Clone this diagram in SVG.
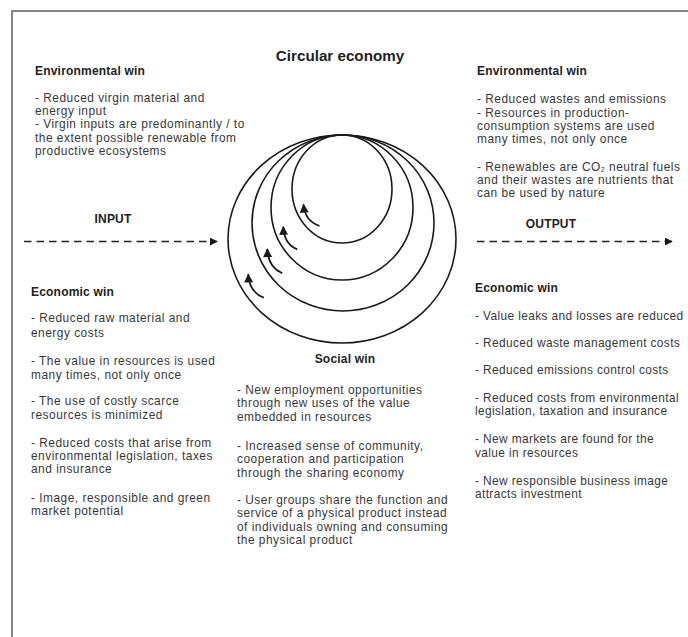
<svg xmlns="http://www.w3.org/2000/svg" width="688" height="637" viewBox="0 0 688 637">
<defs>
<style>
.t{font-family:"Liberation Sans",Arial,sans-serif;font-size:11.9px;letter-spacing:0.5px;fill:#383838}
.tr{letter-spacing:0.38px}
.h{font-family:"Liberation Sans",Arial,sans-serif;font-size:12px;font-weight:bold;letter-spacing:0.2px;fill:#222}
.title{font-family:"Liberation Sans",Arial,sans-serif;font-size:15.2px;font-weight:bold;fill:#222}
.ring{fill:none;stroke:#1a1a1a;stroke-width:1.6}
.dash{fill:none;stroke:#222;stroke-width:1.6;stroke-dasharray:7.5 5}
.curv{fill:none;stroke:#1a1a1a;stroke-width:1.8}
</style>
<marker id="ah" viewBox="0 0 10 10" refX="9" refY="5" markerWidth="8" markerHeight="8" markerUnits="userSpaceOnUse" orient="auto">
<path d="M0,0 L10,5 L0,10 z" fill="#1a1a1a"/>
</marker>
<marker id="ahs" viewBox="0 0 10 10" refX="9" refY="5" markerWidth="10" markerHeight="9" markerUnits="userSpaceOnUse" orient="auto">
<path d="M0,0 L10,5 L0,10 z" fill="#1a1a1a"/>
</marker>
</defs>
<rect width="688" height="637" fill="#fff"/>
<g id="frame" fill="none" stroke="#858585" stroke-width="2">
<path d="M12,637 L12,11 L688,11"/>
</g>
<g id="title"><text class="title" x="340" y="61" text-anchor="middle">Circular economy</text></g>
<g id="env-left">
<text class="h" x="35" y="75">Environmental win</text>
<text class="t"><tspan x="35" y="101.5">- Reduced virgin material and</tspan><tspan x="35" y="115">energy input</tspan><tspan x="35" y="128.3">- Virgin inputs are predominantly / to</tspan><tspan x="35" y="141.7">the extent possible renewable from</tspan><tspan x="35" y="155">productive ecosystems</tspan></text>
</g>
<g id="env-right">
<text class="h" x="477" y="75">Environmental win</text>
<text class="t"><tspan x="477" y="103.3">- Reduced wastes and emissions</tspan><tspan x="477" y="116.7">- Resources in production-</tspan><tspan x="477" y="130">consumption systems are used</tspan><tspan x="477" y="143.3">many times, not only once</tspan><tspan x="477" y="170.7">- Renewables are CO</tspan><tspan font-size="7" dy="0.8">2</tspan><tspan dy="-0.8"> neutral fuels</tspan><tspan x="477" y="184">and their wastes are nutrients that</tspan><tspan x="477" y="197.3">can be used by nature</tspan></text>
</g>
<g id="input"><text class="h" x="113" y="223" text-anchor="middle">INPUT</text></g>
<g id="output"><text class="h" x="551" y="228" text-anchor="middle">OUTPUT</text></g>
<g id="circles">
<ellipse class="ring" cx="342" cy="239" rx="114" ry="104"/>
<ellipse class="ring" cx="343" cy="223" rx="91" ry="88"/>
<ellipse class="ring" cx="342" cy="207.5" rx="71" ry="72.5"/>
<ellipse class="ring" cx="342" cy="189" rx="50" ry="54"/>
</g>
<g id="econ-left">
<text class="h" x="31" y="296">Economic win</text>
<text class="t"><tspan x="31" y="322.3">- Reduced raw material and</tspan><tspan x="31" y="336.7">energy costs</tspan><tspan x="31" y="365">- The value in resources is used</tspan><tspan x="31" y="378.7">many times, not only once</tspan><tspan x="31" y="405">- The use of costly scarce</tspan><tspan x="31" y="419.3">resources is minimized</tspan><tspan x="31" y="446.7">- Reduced costs that arise from</tspan><tspan x="31" y="460">environmental legislation, taxes</tspan><tspan x="31" y="473.3">and insurance</tspan><tspan x="31" y="501.7">- Image, responsible and green</tspan><tspan x="31" y="515">market potential</tspan></text>
</g>
<g id="social">
<text class="h" x="345" y="363.3" text-anchor="middle">Social win</text>
<text class="t"><tspan x="237" y="394">- New employment opportunities</tspan><tspan x="237" y="407.3">through new uses of the value</tspan><tspan x="237" y="420.7">embedded in resources</tspan><tspan x="237" y="450">- Increased sense of community,</tspan><tspan x="237" y="463.3">cooperation and participation</tspan><tspan x="237" y="476.7">through the sharing economy</tspan><tspan x="237" y="504">- User groups share the function and</tspan><tspan x="237" y="517.3">service of a physical product instead</tspan><tspan x="237" y="530.7">of individuals owning and consuming</tspan><tspan x="237" y="544">the physical product</tspan></text>
</g>
<g id="econ-right">
<text class="h" x="475" y="291.7">Economic win</text>
<text class="t tr"><tspan x="475" y="320">- Value leaks and losses are reduced</tspan><tspan x="475" y="346.7">- Reduced waste management costs</tspan><tspan x="475" y="374.3">- Reduced emissions control costs</tspan><tspan x="475" y="401.7">- Reduced costs from environmental</tspan><tspan x="475" y="415">legislation, taxation and insurance</tspan><tspan x="475" y="443.3">- New markets are found for the</tspan><tspan x="475" y="456.7">value in resources</tspan><tspan x="475" y="485">- New responsible business image</tspan><tspan x="475" y="498.3">attracts investment</tspan></text>
</g>
<g id="connectors">
<path class="dash" d="M24,241.5 L217,241.5" marker-end="url(#ah)"/>
<path class="dash" d="M477,241.5 L672,241.5" marker-end="url(#ah)"/>
<path class="curv" d="M319.5,226 Q305,221 303.5,204.5" marker-end="url(#ahs)"/>
<path class="curv" d="M297.2,249.3 Q284,244 283.3,226.7" marker-end="url(#ahs)"/>
<path class="curv" d="M282.2,273.3 Q268,267 267.3,249" marker-end="url(#ahs)"/>
<path class="curv" d="M263.8,297.7 Q249,292 248.3,274.3" marker-end="url(#ahs)"/>
</g>
</svg>
